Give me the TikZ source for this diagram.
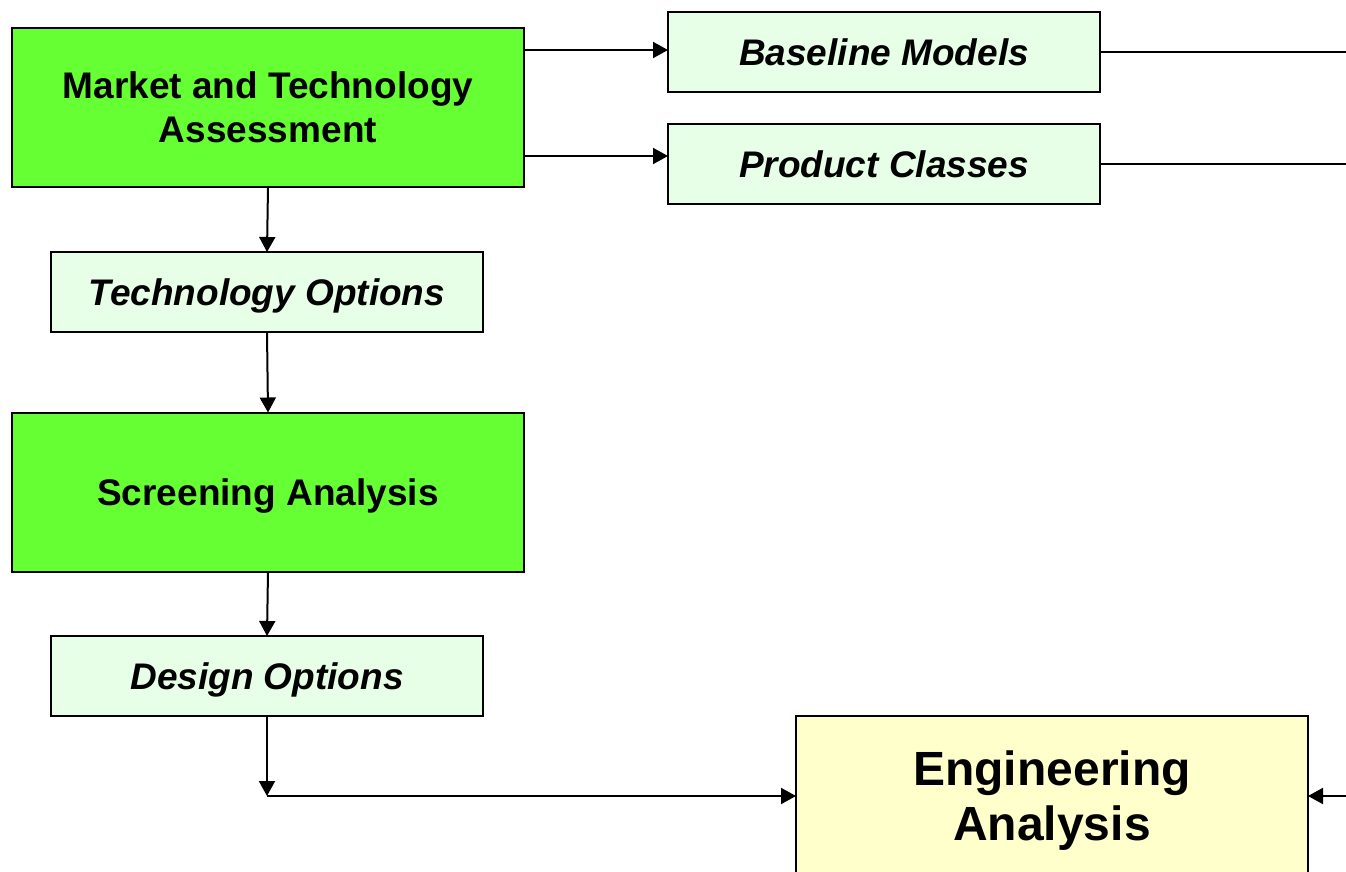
\documentclass[tikz,border=0pt]{standalone}
\usepackage{fontspec}
\setmainfont{Liberation Sans}
\usepackage{xcolor}
\usetikzlibrary{calc}
\usetikzlibrary{arrows.meta}
\definecolor{stepgreen}{HTML}{66FF33}
\definecolor{palegreen}{HTML}{E6FFE6}
\definecolor{paleyellow}{HTML}{FFFFCC}
\begin{document}
\begin{tikzpicture}[x=0.5pt, y=-0.5pt,
    every node/.style={draw=black, line width=1pt, outer sep=0pt, inner sep=2pt, align=center, text depth=0pt},
    mainbox/.style={fill=stepgreen, minimum width=256pt, minimum height=79.5pt,
        font=\fontsize{18.5}{22}\selectfont\bfseries},
    outbox/.style={fill=palegreen, minimum width=216pt, minimum height=40pt,
        font=\fontsize{18.5}{22}\selectfont\bfseries\itshape},
    bigbox/.style={fill=paleyellow, minimum width=256pt, minimum height=80pt,
        font=\fontsize{24}{27.5}\selectfont\bfseries},
    flow/.style={line width=1pt, -{Triangle[length=7.5pt, width=8pt]}}]
    %FRAME
    \useasboundingbox (0,0) rectangle (1346,872);
    %KOTAK-KOTAK
    \node[mainbox] (MTA) at (268,107.5) {Market and Technology\\Assessment};
    \node[outbox] (BM) at (884,52) {Baseline Models};
    \node[outbox] (PC) at (884,164) {Product Classes};
    \node[outbox] (TO) at (267,292) {Technology Options};
    \node[mainbox] (SA) at (268,492) {Screening Analysis};
    \node[outbox] (DO) at (267,676) {Design Options};
    \node[bigbox] (EA) at (1052,796) {Engineering\\Analysis};
    %TITIK
    \coordinate (edge) at (1346,0);
    \coordinate (corner) at (DO.south |- EA.west);
    %PANAH
    \draw[flow] (MTA.east |- 0,50) -- (BM.west |- 0,50);
    \draw[flow] (MTA.east |- 0,156) -- (PC.west |- 0,156);
    \draw[line width=1pt] (BM.east) -- (BM.east -| edge);
    \draw[line width=1pt] (PC.east) -- (PC.east -| edge);
    \draw[flow] (MTA.south) -- (TO.north);
    \draw[flow] (TO.south) -- (SA.north);
    \draw[flow] (SA.south) -- (DO.north);
    \draw[flow] (DO.south) -- (corner);
    \draw[flow] (corner) -- (EA.west);
    \draw[flow] (EA.east -| edge) -- (EA.east);
\end{tikzpicture}
\end{document}
